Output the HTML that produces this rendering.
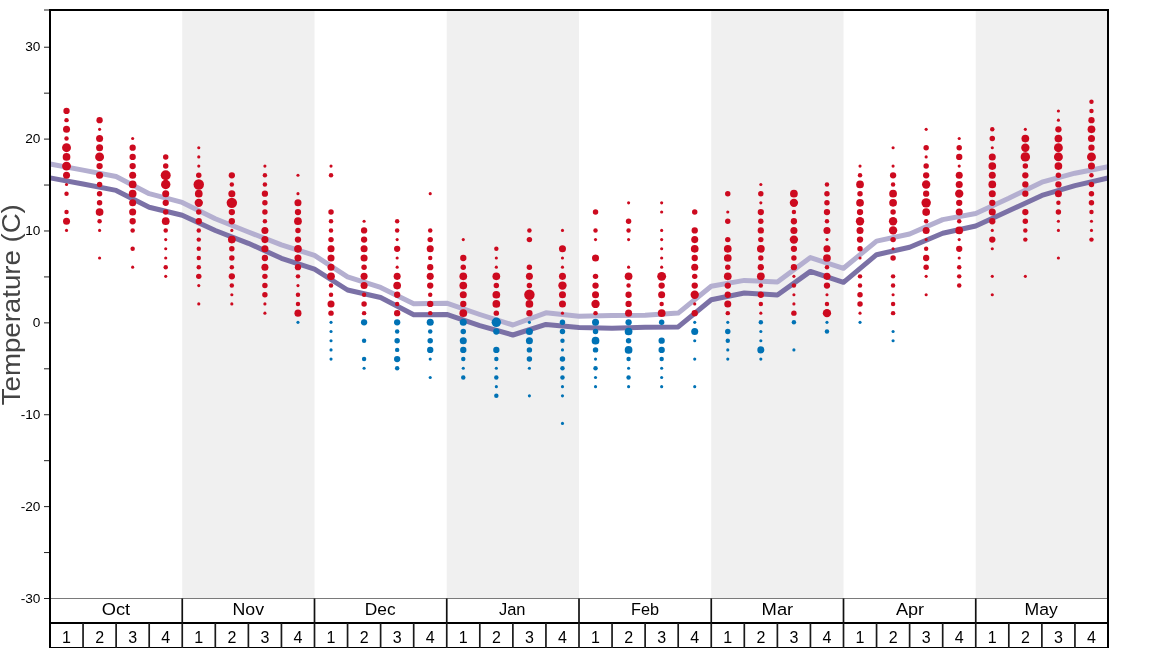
<!DOCTYPE html><html><head><meta charset="utf-8"><style>html,body{margin:0;padding:0;background:#fff;width:1168px;height:648px;overflow:hidden}svg{display:block}text{font-family:"Liberation Sans",sans-serif}</style></head><body><div style="will-change:transform;width:1168px;height:648px">
<svg width="1168" height="648" viewBox="0 0 1168 648">
<rect x="0" y="0" width="1168" height="648" fill="#fff"/>
<rect x="182.25" y="11" width="132.25" height="587" fill="#f0f0f0"/>
<rect x="446.75" y="11" width="132.25" height="587" fill="#f0f0f0"/>
<rect x="711.25" y="11" width="132.25" height="587" fill="#f0f0f0"/>
<rect x="975.75" y="11" width="132.25" height="587" fill="#f0f0f0"/>
<polyline points="50.00,164.00 83.06,170.16 116.12,176.50 149.19,193.70 182.25,202.40 215.31,218.80 248.38,232.00 281.44,244.80 314.50,255.40 347.56,276.80 380.62,287.40 413.69,303.80 446.75,303.20 479.81,314.50 512.88,325.00 545.94,312.80 579.00,316.20 612.06,315.50 645.12,315.30 678.19,313.10 711.25,286.30 744.31,280.40 777.38,282.00 810.44,257.60 843.50,268.30 876.56,241.10 909.62,234.00 942.69,219.60 975.75,213.50 1008.81,198.30 1041.88,182.20 1074.94,173.20 1108.00,166.80" fill="none" stroke="#b4afd0" stroke-width="5" stroke-linejoin="round" stroke-linecap="butt"/>
<polyline points="50.00,177.85 83.06,184.00 116.12,190.40 149.19,207.30 182.25,215.20 215.31,230.50 248.38,243.30 281.44,258.30 314.50,269.20 347.56,290.00 380.62,297.50 413.69,314.70 446.75,314.40 479.81,325.70 512.88,335.00 545.94,324.40 579.00,327.50 612.06,328.30 645.12,327.30 678.19,326.90 711.25,299.70 744.31,293.00 777.38,295.00 810.44,271.40 843.50,282.30 876.56,254.70 909.62,247.30 942.69,233.30 975.75,226.00 1008.81,210.80 1041.88,195.40 1074.94,185.60 1108.00,178.00" fill="none" stroke="#7b71a6" stroke-width="5" stroke-linejoin="round" stroke-linecap="butt"/>
<circle cx="66.53" cy="230.42" r="1.57" fill="#cd0a1f"/>
<circle cx="66.53" cy="221.23" r="3.52" fill="#cd0a1f"/>
<circle cx="66.53" cy="212.04" r="2.23" fill="#cd0a1f"/>
<circle cx="66.53" cy="193.66" r="2.23" fill="#cd0a1f"/>
<circle cx="66.53" cy="184.47" r="1.57" fill="#cd0a1f"/>
<circle cx="66.53" cy="175.28" r="3.52" fill="#cd0a1f"/>
<circle cx="66.53" cy="166.09" r="4.45" fill="#cd0a1f"/>
<circle cx="66.53" cy="156.90" r="3.86" fill="#cd0a1f"/>
<circle cx="66.53" cy="147.71" r="4.45" fill="#cd0a1f"/>
<circle cx="66.53" cy="138.52" r="2.23" fill="#cd0a1f"/>
<circle cx="66.53" cy="129.33" r="3.52" fill="#cd0a1f"/>
<circle cx="66.53" cy="120.14" r="2.23" fill="#cd0a1f"/>
<circle cx="66.53" cy="110.95" r="3.15" fill="#cd0a1f"/>
<circle cx="99.59" cy="257.99" r="1.57" fill="#cd0a1f"/>
<circle cx="99.59" cy="230.42" r="1.57" fill="#cd0a1f"/>
<circle cx="99.59" cy="221.23" r="2.23" fill="#cd0a1f"/>
<circle cx="99.59" cy="212.04" r="3.86" fill="#cd0a1f"/>
<circle cx="99.59" cy="202.85" r="2.73" fill="#cd0a1f"/>
<circle cx="99.59" cy="193.66" r="2.73" fill="#cd0a1f"/>
<circle cx="99.59" cy="184.47" r="2.73" fill="#cd0a1f"/>
<circle cx="99.59" cy="175.28" r="3.52" fill="#cd0a1f"/>
<circle cx="99.59" cy="166.09" r="3.15" fill="#cd0a1f"/>
<circle cx="99.59" cy="156.90" r="4.45" fill="#cd0a1f"/>
<circle cx="99.59" cy="147.71" r="3.52" fill="#cd0a1f"/>
<circle cx="99.59" cy="138.52" r="3.52" fill="#cd0a1f"/>
<circle cx="99.59" cy="129.33" r="1.57" fill="#cd0a1f"/>
<circle cx="99.59" cy="120.14" r="3.15" fill="#cd0a1f"/>
<circle cx="132.66" cy="267.18" r="1.57" fill="#cd0a1f"/>
<circle cx="132.66" cy="248.80" r="2.23" fill="#cd0a1f"/>
<circle cx="132.66" cy="230.42" r="2.23" fill="#cd0a1f"/>
<circle cx="132.66" cy="221.23" r="3.15" fill="#cd0a1f"/>
<circle cx="132.66" cy="212.04" r="3.52" fill="#cd0a1f"/>
<circle cx="132.66" cy="202.85" r="3.52" fill="#cd0a1f"/>
<circle cx="132.66" cy="193.66" r="3.86" fill="#cd0a1f"/>
<circle cx="132.66" cy="184.47" r="3.86" fill="#cd0a1f"/>
<circle cx="132.66" cy="175.28" r="3.52" fill="#cd0a1f"/>
<circle cx="132.66" cy="166.09" r="3.15" fill="#cd0a1f"/>
<circle cx="132.66" cy="156.90" r="3.15" fill="#cd0a1f"/>
<circle cx="132.66" cy="147.71" r="3.15" fill="#cd0a1f"/>
<circle cx="132.66" cy="138.52" r="1.57" fill="#cd0a1f"/>
<circle cx="165.72" cy="276.37" r="1.57" fill="#cd0a1f"/>
<circle cx="165.72" cy="267.18" r="2.23" fill="#cd0a1f"/>
<circle cx="165.72" cy="257.99" r="1.57" fill="#cd0a1f"/>
<circle cx="165.72" cy="248.80" r="1.57" fill="#cd0a1f"/>
<circle cx="165.72" cy="239.61" r="1.57" fill="#cd0a1f"/>
<circle cx="165.72" cy="230.42" r="2.23" fill="#cd0a1f"/>
<circle cx="165.72" cy="221.23" r="3.86" fill="#cd0a1f"/>
<circle cx="165.72" cy="212.04" r="2.73" fill="#cd0a1f"/>
<circle cx="165.72" cy="202.85" r="3.15" fill="#cd0a1f"/>
<circle cx="165.72" cy="193.66" r="3.52" fill="#cd0a1f"/>
<circle cx="165.72" cy="184.47" r="4.72" fill="#cd0a1f"/>
<circle cx="165.72" cy="175.28" r="4.98" fill="#cd0a1f"/>
<circle cx="165.72" cy="166.09" r="2.73" fill="#cd0a1f"/>
<circle cx="165.72" cy="156.90" r="2.73" fill="#cd0a1f"/>
<circle cx="198.78" cy="303.94" r="1.57" fill="#cd0a1f"/>
<circle cx="198.78" cy="285.56" r="1.57" fill="#cd0a1f"/>
<circle cx="198.78" cy="276.37" r="2.73" fill="#cd0a1f"/>
<circle cx="198.78" cy="267.18" r="2.23" fill="#cd0a1f"/>
<circle cx="198.78" cy="257.99" r="2.23" fill="#cd0a1f"/>
<circle cx="198.78" cy="248.80" r="2.23" fill="#cd0a1f"/>
<circle cx="198.78" cy="239.61" r="2.23" fill="#cd0a1f"/>
<circle cx="198.78" cy="230.42" r="2.23" fill="#cd0a1f"/>
<circle cx="198.78" cy="221.23" r="3.15" fill="#cd0a1f"/>
<circle cx="198.78" cy="212.04" r="2.73" fill="#cd0a1f"/>
<circle cx="198.78" cy="202.85" r="4.17" fill="#cd0a1f"/>
<circle cx="198.78" cy="193.66" r="3.86" fill="#cd0a1f"/>
<circle cx="198.78" cy="184.47" r="5.22" fill="#cd0a1f"/>
<circle cx="198.78" cy="175.28" r="2.73" fill="#cd0a1f"/>
<circle cx="198.78" cy="166.09" r="1.57" fill="#cd0a1f"/>
<circle cx="198.78" cy="156.90" r="1.57" fill="#cd0a1f"/>
<circle cx="198.78" cy="147.71" r="1.57" fill="#cd0a1f"/>
<circle cx="231.84" cy="303.94" r="1.57" fill="#cd0a1f"/>
<circle cx="231.84" cy="294.75" r="1.57" fill="#cd0a1f"/>
<circle cx="231.84" cy="285.56" r="2.23" fill="#cd0a1f"/>
<circle cx="231.84" cy="276.37" r="3.15" fill="#cd0a1f"/>
<circle cx="231.84" cy="267.18" r="2.23" fill="#cd0a1f"/>
<circle cx="231.84" cy="257.99" r="2.73" fill="#cd0a1f"/>
<circle cx="231.84" cy="248.80" r="2.73" fill="#cd0a1f"/>
<circle cx="231.84" cy="239.61" r="3.86" fill="#cd0a1f"/>
<circle cx="231.84" cy="230.42" r="1.57" fill="#cd0a1f"/>
<circle cx="231.84" cy="221.23" r="3.15" fill="#cd0a1f"/>
<circle cx="231.84" cy="212.04" r="3.15" fill="#cd0a1f"/>
<circle cx="231.84" cy="202.85" r="5.22" fill="#cd0a1f"/>
<circle cx="231.84" cy="193.66" r="3.52" fill="#cd0a1f"/>
<circle cx="231.84" cy="184.47" r="2.23" fill="#cd0a1f"/>
<circle cx="231.84" cy="175.28" r="3.15" fill="#cd0a1f"/>
<circle cx="264.91" cy="313.13" r="1.57" fill="#cd0a1f"/>
<circle cx="264.91" cy="303.94" r="1.57" fill="#cd0a1f"/>
<circle cx="264.91" cy="294.75" r="2.73" fill="#cd0a1f"/>
<circle cx="264.91" cy="285.56" r="2.73" fill="#cd0a1f"/>
<circle cx="264.91" cy="276.37" r="2.73" fill="#cd0a1f"/>
<circle cx="264.91" cy="267.18" r="3.52" fill="#cd0a1f"/>
<circle cx="264.91" cy="257.99" r="3.15" fill="#cd0a1f"/>
<circle cx="264.91" cy="248.80" r="3.52" fill="#cd0a1f"/>
<circle cx="264.91" cy="239.61" r="3.52" fill="#cd0a1f"/>
<circle cx="264.91" cy="230.42" r="3.52" fill="#cd0a1f"/>
<circle cx="264.91" cy="221.23" r="2.23" fill="#cd0a1f"/>
<circle cx="264.91" cy="212.04" r="2.73" fill="#cd0a1f"/>
<circle cx="264.91" cy="202.85" r="2.73" fill="#cd0a1f"/>
<circle cx="264.91" cy="193.66" r="3.15" fill="#cd0a1f"/>
<circle cx="264.91" cy="184.47" r="2.23" fill="#cd0a1f"/>
<circle cx="264.91" cy="175.28" r="2.23" fill="#cd0a1f"/>
<circle cx="264.91" cy="166.09" r="1.57" fill="#cd0a1f"/>
<circle cx="297.97" cy="322.32" r="1.57" fill="#0072b5"/>
<circle cx="297.97" cy="313.13" r="3.52" fill="#cd0a1f"/>
<circle cx="297.97" cy="303.94" r="2.23" fill="#cd0a1f"/>
<circle cx="297.97" cy="294.75" r="2.23" fill="#cd0a1f"/>
<circle cx="297.97" cy="285.56" r="1.57" fill="#cd0a1f"/>
<circle cx="297.97" cy="276.37" r="2.23" fill="#cd0a1f"/>
<circle cx="297.97" cy="267.18" r="3.15" fill="#cd0a1f"/>
<circle cx="297.97" cy="257.99" r="3.52" fill="#cd0a1f"/>
<circle cx="297.97" cy="248.80" r="3.86" fill="#cd0a1f"/>
<circle cx="297.97" cy="239.61" r="3.15" fill="#cd0a1f"/>
<circle cx="297.97" cy="230.42" r="2.73" fill="#cd0a1f"/>
<circle cx="297.97" cy="221.23" r="3.86" fill="#cd0a1f"/>
<circle cx="297.97" cy="212.04" r="3.15" fill="#cd0a1f"/>
<circle cx="297.97" cy="202.85" r="3.52" fill="#cd0a1f"/>
<circle cx="297.97" cy="193.66" r="1.57" fill="#cd0a1f"/>
<circle cx="297.97" cy="175.28" r="1.57" fill="#cd0a1f"/>
<circle cx="331.03" cy="359.08" r="1.57" fill="#0072b5"/>
<circle cx="331.03" cy="349.89" r="1.57" fill="#0072b5"/>
<circle cx="331.03" cy="340.70" r="1.57" fill="#0072b5"/>
<circle cx="331.03" cy="331.51" r="1.57" fill="#0072b5"/>
<circle cx="331.03" cy="322.32" r="1.57" fill="#0072b5"/>
<circle cx="331.03" cy="313.13" r="2.73" fill="#cd0a1f"/>
<circle cx="331.03" cy="303.94" r="3.52" fill="#cd0a1f"/>
<circle cx="331.03" cy="294.75" r="2.23" fill="#cd0a1f"/>
<circle cx="331.03" cy="285.56" r="2.23" fill="#cd0a1f"/>
<circle cx="331.03" cy="276.37" r="3.86" fill="#cd0a1f"/>
<circle cx="331.03" cy="267.18" r="3.52" fill="#cd0a1f"/>
<circle cx="331.03" cy="257.99" r="3.52" fill="#cd0a1f"/>
<circle cx="331.03" cy="248.80" r="3.52" fill="#cd0a1f"/>
<circle cx="331.03" cy="239.61" r="2.73" fill="#cd0a1f"/>
<circle cx="331.03" cy="230.42" r="2.23" fill="#cd0a1f"/>
<circle cx="331.03" cy="221.23" r="2.23" fill="#cd0a1f"/>
<circle cx="331.03" cy="212.04" r="2.73" fill="#cd0a1f"/>
<circle cx="331.03" cy="175.28" r="2.23" fill="#cd0a1f"/>
<circle cx="331.03" cy="166.09" r="1.57" fill="#cd0a1f"/>
<circle cx="364.09" cy="368.27" r="1.57" fill="#0072b5"/>
<circle cx="364.09" cy="359.08" r="2.23" fill="#0072b5"/>
<circle cx="364.09" cy="340.70" r="2.23" fill="#0072b5"/>
<circle cx="364.09" cy="322.32" r="3.15" fill="#0072b5"/>
<circle cx="364.09" cy="313.13" r="2.23" fill="#cd0a1f"/>
<circle cx="364.09" cy="303.94" r="2.73" fill="#cd0a1f"/>
<circle cx="364.09" cy="294.75" r="2.23" fill="#cd0a1f"/>
<circle cx="364.09" cy="285.56" r="3.52" fill="#cd0a1f"/>
<circle cx="364.09" cy="276.37" r="3.52" fill="#cd0a1f"/>
<circle cx="364.09" cy="267.18" r="2.73" fill="#cd0a1f"/>
<circle cx="364.09" cy="257.99" r="3.52" fill="#cd0a1f"/>
<circle cx="364.09" cy="248.80" r="3.52" fill="#cd0a1f"/>
<circle cx="364.09" cy="239.61" r="3.15" fill="#cd0a1f"/>
<circle cx="364.09" cy="230.42" r="3.15" fill="#cd0a1f"/>
<circle cx="364.09" cy="221.23" r="1.57" fill="#cd0a1f"/>
<circle cx="397.16" cy="368.27" r="2.23" fill="#0072b5"/>
<circle cx="397.16" cy="359.08" r="3.15" fill="#0072b5"/>
<circle cx="397.16" cy="349.89" r="2.23" fill="#0072b5"/>
<circle cx="397.16" cy="340.70" r="2.73" fill="#0072b5"/>
<circle cx="397.16" cy="331.51" r="2.23" fill="#0072b5"/>
<circle cx="397.16" cy="322.32" r="3.15" fill="#0072b5"/>
<circle cx="397.16" cy="313.13" r="3.15" fill="#cd0a1f"/>
<circle cx="397.16" cy="303.94" r="2.23" fill="#cd0a1f"/>
<circle cx="397.16" cy="294.75" r="3.15" fill="#cd0a1f"/>
<circle cx="397.16" cy="285.56" r="3.86" fill="#cd0a1f"/>
<circle cx="397.16" cy="276.37" r="3.52" fill="#cd0a1f"/>
<circle cx="397.16" cy="267.18" r="1.57" fill="#cd0a1f"/>
<circle cx="397.16" cy="257.99" r="1.57" fill="#cd0a1f"/>
<circle cx="397.16" cy="248.80" r="3.15" fill="#cd0a1f"/>
<circle cx="397.16" cy="239.61" r="1.57" fill="#cd0a1f"/>
<circle cx="397.16" cy="230.42" r="2.23" fill="#cd0a1f"/>
<circle cx="397.16" cy="221.23" r="2.23" fill="#cd0a1f"/>
<circle cx="430.22" cy="377.46" r="1.57" fill="#0072b5"/>
<circle cx="430.22" cy="359.08" r="1.57" fill="#0072b5"/>
<circle cx="430.22" cy="349.89" r="3.15" fill="#0072b5"/>
<circle cx="430.22" cy="340.70" r="2.73" fill="#0072b5"/>
<circle cx="430.22" cy="331.51" r="2.23" fill="#0072b5"/>
<circle cx="430.22" cy="322.32" r="3.52" fill="#0072b5"/>
<circle cx="430.22" cy="313.13" r="2.23" fill="#cd0a1f"/>
<circle cx="430.22" cy="303.94" r="3.15" fill="#cd0a1f"/>
<circle cx="430.22" cy="294.75" r="2.23" fill="#cd0a1f"/>
<circle cx="430.22" cy="285.56" r="3.15" fill="#cd0a1f"/>
<circle cx="430.22" cy="276.37" r="3.52" fill="#cd0a1f"/>
<circle cx="430.22" cy="267.18" r="3.15" fill="#cd0a1f"/>
<circle cx="430.22" cy="257.99" r="2.23" fill="#cd0a1f"/>
<circle cx="430.22" cy="248.80" r="3.52" fill="#cd0a1f"/>
<circle cx="430.22" cy="239.61" r="2.73" fill="#cd0a1f"/>
<circle cx="430.22" cy="230.42" r="2.23" fill="#cd0a1f"/>
<circle cx="430.22" cy="193.66" r="1.57" fill="#cd0a1f"/>
<circle cx="463.28" cy="377.46" r="2.23" fill="#0072b5"/>
<circle cx="463.28" cy="368.27" r="1.57" fill="#0072b5"/>
<circle cx="463.28" cy="359.08" r="2.23" fill="#0072b5"/>
<circle cx="463.28" cy="349.89" r="3.15" fill="#0072b5"/>
<circle cx="463.28" cy="340.70" r="3.52" fill="#0072b5"/>
<circle cx="463.28" cy="331.51" r="2.73" fill="#0072b5"/>
<circle cx="463.28" cy="322.32" r="3.52" fill="#0072b5"/>
<circle cx="463.28" cy="313.13" r="3.86" fill="#cd0a1f"/>
<circle cx="463.28" cy="303.94" r="3.15" fill="#cd0a1f"/>
<circle cx="463.28" cy="294.75" r="3.52" fill="#cd0a1f"/>
<circle cx="463.28" cy="285.56" r="3.86" fill="#cd0a1f"/>
<circle cx="463.28" cy="276.37" r="3.86" fill="#cd0a1f"/>
<circle cx="463.28" cy="267.18" r="2.73" fill="#cd0a1f"/>
<circle cx="463.28" cy="257.99" r="3.15" fill="#cd0a1f"/>
<circle cx="463.28" cy="239.61" r="1.57" fill="#cd0a1f"/>
<circle cx="496.34" cy="395.84" r="2.23" fill="#0072b5"/>
<circle cx="496.34" cy="386.65" r="1.57" fill="#0072b5"/>
<circle cx="496.34" cy="377.46" r="2.23" fill="#0072b5"/>
<circle cx="496.34" cy="368.27" r="1.57" fill="#0072b5"/>
<circle cx="496.34" cy="359.08" r="2.23" fill="#0072b5"/>
<circle cx="496.34" cy="349.89" r="3.15" fill="#0072b5"/>
<circle cx="496.34" cy="331.51" r="3.15" fill="#0072b5"/>
<circle cx="496.34" cy="322.32" r="4.72" fill="#0072b5"/>
<circle cx="496.34" cy="313.13" r="2.73" fill="#cd0a1f"/>
<circle cx="496.34" cy="303.94" r="3.86" fill="#cd0a1f"/>
<circle cx="496.34" cy="294.75" r="3.86" fill="#cd0a1f"/>
<circle cx="496.34" cy="285.56" r="2.73" fill="#cd0a1f"/>
<circle cx="496.34" cy="276.37" r="3.86" fill="#cd0a1f"/>
<circle cx="496.34" cy="267.18" r="1.57" fill="#cd0a1f"/>
<circle cx="496.34" cy="257.99" r="1.57" fill="#cd0a1f"/>
<circle cx="496.34" cy="248.80" r="2.23" fill="#cd0a1f"/>
<circle cx="529.41" cy="395.84" r="1.57" fill="#0072b5"/>
<circle cx="529.41" cy="368.27" r="1.57" fill="#0072b5"/>
<circle cx="529.41" cy="359.08" r="2.73" fill="#0072b5"/>
<circle cx="529.41" cy="349.89" r="2.73" fill="#0072b5"/>
<circle cx="529.41" cy="340.70" r="3.52" fill="#0072b5"/>
<circle cx="529.41" cy="331.51" r="3.52" fill="#0072b5"/>
<circle cx="529.41" cy="322.32" r="1.57" fill="#0072b5"/>
<circle cx="529.41" cy="313.13" r="3.15" fill="#cd0a1f"/>
<circle cx="529.41" cy="303.94" r="3.86" fill="#cd0a1f"/>
<circle cx="529.41" cy="294.75" r="5.22" fill="#cd0a1f"/>
<circle cx="529.41" cy="285.56" r="2.73" fill="#cd0a1f"/>
<circle cx="529.41" cy="276.37" r="3.52" fill="#cd0a1f"/>
<circle cx="529.41" cy="267.18" r="2.73" fill="#cd0a1f"/>
<circle cx="529.41" cy="239.61" r="2.73" fill="#cd0a1f"/>
<circle cx="529.41" cy="230.42" r="2.23" fill="#cd0a1f"/>
<circle cx="562.47" cy="423.41" r="1.57" fill="#0072b5"/>
<circle cx="562.47" cy="395.84" r="1.57" fill="#0072b5"/>
<circle cx="562.47" cy="386.65" r="1.57" fill="#0072b5"/>
<circle cx="562.47" cy="377.46" r="2.23" fill="#0072b5"/>
<circle cx="562.47" cy="368.27" r="2.23" fill="#0072b5"/>
<circle cx="562.47" cy="359.08" r="2.73" fill="#0072b5"/>
<circle cx="562.47" cy="349.89" r="1.57" fill="#0072b5"/>
<circle cx="562.47" cy="340.70" r="2.23" fill="#0072b5"/>
<circle cx="562.47" cy="331.51" r="2.73" fill="#0072b5"/>
<circle cx="562.47" cy="322.32" r="2.73" fill="#0072b5"/>
<circle cx="562.47" cy="313.13" r="1.57" fill="#cd0a1f"/>
<circle cx="562.47" cy="303.94" r="3.52" fill="#cd0a1f"/>
<circle cx="562.47" cy="294.75" r="3.52" fill="#cd0a1f"/>
<circle cx="562.47" cy="285.56" r="4.17" fill="#cd0a1f"/>
<circle cx="562.47" cy="276.37" r="3.52" fill="#cd0a1f"/>
<circle cx="562.47" cy="267.18" r="1.57" fill="#cd0a1f"/>
<circle cx="562.47" cy="257.99" r="1.57" fill="#cd0a1f"/>
<circle cx="562.47" cy="248.80" r="3.52" fill="#cd0a1f"/>
<circle cx="562.47" cy="230.42" r="1.57" fill="#cd0a1f"/>
<circle cx="595.53" cy="386.65" r="1.57" fill="#0072b5"/>
<circle cx="595.53" cy="377.46" r="1.57" fill="#0072b5"/>
<circle cx="595.53" cy="368.27" r="2.23" fill="#0072b5"/>
<circle cx="595.53" cy="359.08" r="1.57" fill="#0072b5"/>
<circle cx="595.53" cy="349.89" r="2.73" fill="#0072b5"/>
<circle cx="595.53" cy="340.70" r="3.86" fill="#0072b5"/>
<circle cx="595.53" cy="331.51" r="2.73" fill="#0072b5"/>
<circle cx="595.53" cy="322.32" r="3.52" fill="#0072b5"/>
<circle cx="595.53" cy="313.13" r="2.23" fill="#cd0a1f"/>
<circle cx="595.53" cy="303.94" r="4.17" fill="#cd0a1f"/>
<circle cx="595.53" cy="294.75" r="3.52" fill="#cd0a1f"/>
<circle cx="595.53" cy="285.56" r="3.15" fill="#cd0a1f"/>
<circle cx="595.53" cy="276.37" r="2.73" fill="#cd0a1f"/>
<circle cx="595.53" cy="257.99" r="3.52" fill="#cd0a1f"/>
<circle cx="595.53" cy="239.61" r="1.57" fill="#cd0a1f"/>
<circle cx="595.53" cy="230.42" r="2.23" fill="#cd0a1f"/>
<circle cx="595.53" cy="212.04" r="2.73" fill="#cd0a1f"/>
<circle cx="628.59" cy="386.65" r="1.57" fill="#0072b5"/>
<circle cx="628.59" cy="377.46" r="2.23" fill="#0072b5"/>
<circle cx="628.59" cy="368.27" r="1.57" fill="#0072b5"/>
<circle cx="628.59" cy="359.08" r="2.23" fill="#0072b5"/>
<circle cx="628.59" cy="349.89" r="3.86" fill="#0072b5"/>
<circle cx="628.59" cy="340.70" r="2.73" fill="#0072b5"/>
<circle cx="628.59" cy="331.51" r="3.86" fill="#0072b5"/>
<circle cx="628.59" cy="322.32" r="3.15" fill="#0072b5"/>
<circle cx="628.59" cy="313.13" r="3.52" fill="#cd0a1f"/>
<circle cx="628.59" cy="303.94" r="3.15" fill="#cd0a1f"/>
<circle cx="628.59" cy="294.75" r="3.15" fill="#cd0a1f"/>
<circle cx="628.59" cy="285.56" r="2.23" fill="#cd0a1f"/>
<circle cx="628.59" cy="276.37" r="3.86" fill="#cd0a1f"/>
<circle cx="628.59" cy="267.18" r="1.57" fill="#cd0a1f"/>
<circle cx="628.59" cy="239.61" r="1.57" fill="#cd0a1f"/>
<circle cx="628.59" cy="230.42" r="2.23" fill="#cd0a1f"/>
<circle cx="628.59" cy="221.23" r="2.73" fill="#cd0a1f"/>
<circle cx="628.59" cy="202.85" r="1.57" fill="#cd0a1f"/>
<circle cx="661.66" cy="386.65" r="1.57" fill="#0072b5"/>
<circle cx="661.66" cy="377.46" r="1.57" fill="#0072b5"/>
<circle cx="661.66" cy="368.27" r="1.57" fill="#0072b5"/>
<circle cx="661.66" cy="359.08" r="2.23" fill="#0072b5"/>
<circle cx="661.66" cy="349.89" r="3.15" fill="#0072b5"/>
<circle cx="661.66" cy="340.70" r="3.15" fill="#0072b5"/>
<circle cx="661.66" cy="322.32" r="2.73" fill="#0072b5"/>
<circle cx="661.66" cy="313.13" r="3.86" fill="#cd0a1f"/>
<circle cx="661.66" cy="303.94" r="2.23" fill="#cd0a1f"/>
<circle cx="661.66" cy="294.75" r="3.52" fill="#cd0a1f"/>
<circle cx="661.66" cy="285.56" r="3.15" fill="#cd0a1f"/>
<circle cx="661.66" cy="276.37" r="4.45" fill="#cd0a1f"/>
<circle cx="661.66" cy="267.18" r="1.57" fill="#cd0a1f"/>
<circle cx="661.66" cy="257.99" r="1.57" fill="#cd0a1f"/>
<circle cx="661.66" cy="248.80" r="1.57" fill="#cd0a1f"/>
<circle cx="661.66" cy="239.61" r="1.57" fill="#cd0a1f"/>
<circle cx="661.66" cy="230.42" r="1.57" fill="#cd0a1f"/>
<circle cx="661.66" cy="212.04" r="1.57" fill="#cd0a1f"/>
<circle cx="661.66" cy="202.85" r="1.57" fill="#cd0a1f"/>
<circle cx="694.72" cy="386.65" r="1.57" fill="#0072b5"/>
<circle cx="694.72" cy="359.08" r="1.57" fill="#0072b5"/>
<circle cx="694.72" cy="340.70" r="1.57" fill="#0072b5"/>
<circle cx="694.72" cy="331.51" r="3.52" fill="#0072b5"/>
<circle cx="694.72" cy="322.32" r="1.57" fill="#0072b5"/>
<circle cx="694.72" cy="313.13" r="3.15" fill="#cd0a1f"/>
<circle cx="694.72" cy="303.94" r="1.57" fill="#cd0a1f"/>
<circle cx="694.72" cy="294.75" r="4.17" fill="#cd0a1f"/>
<circle cx="694.72" cy="285.56" r="3.15" fill="#cd0a1f"/>
<circle cx="694.72" cy="276.37" r="2.73" fill="#cd0a1f"/>
<circle cx="694.72" cy="267.18" r="3.52" fill="#cd0a1f"/>
<circle cx="694.72" cy="257.99" r="3.15" fill="#cd0a1f"/>
<circle cx="694.72" cy="248.80" r="3.86" fill="#cd0a1f"/>
<circle cx="694.72" cy="239.61" r="3.52" fill="#cd0a1f"/>
<circle cx="694.72" cy="230.42" r="3.15" fill="#cd0a1f"/>
<circle cx="694.72" cy="212.04" r="2.73" fill="#cd0a1f"/>
<circle cx="727.78" cy="359.08" r="1.57" fill="#0072b5"/>
<circle cx="727.78" cy="349.89" r="1.57" fill="#0072b5"/>
<circle cx="727.78" cy="340.70" r="2.23" fill="#0072b5"/>
<circle cx="727.78" cy="331.51" r="2.73" fill="#0072b5"/>
<circle cx="727.78" cy="322.32" r="1.57" fill="#0072b5"/>
<circle cx="727.78" cy="313.13" r="2.23" fill="#cd0a1f"/>
<circle cx="727.78" cy="303.94" r="3.52" fill="#cd0a1f"/>
<circle cx="727.78" cy="294.75" r="3.15" fill="#cd0a1f"/>
<circle cx="727.78" cy="285.56" r="3.15" fill="#cd0a1f"/>
<circle cx="727.78" cy="276.37" r="3.86" fill="#cd0a1f"/>
<circle cx="727.78" cy="267.18" r="2.73" fill="#cd0a1f"/>
<circle cx="727.78" cy="257.99" r="3.86" fill="#cd0a1f"/>
<circle cx="727.78" cy="248.80" r="3.86" fill="#cd0a1f"/>
<circle cx="727.78" cy="239.61" r="2.73" fill="#cd0a1f"/>
<circle cx="727.78" cy="221.23" r="2.73" fill="#cd0a1f"/>
<circle cx="727.78" cy="212.04" r="1.57" fill="#cd0a1f"/>
<circle cx="727.78" cy="193.66" r="2.73" fill="#cd0a1f"/>
<circle cx="760.84" cy="359.08" r="1.57" fill="#0072b5"/>
<circle cx="760.84" cy="349.89" r="3.52" fill="#0072b5"/>
<circle cx="760.84" cy="340.70" r="1.57" fill="#0072b5"/>
<circle cx="760.84" cy="331.51" r="1.57" fill="#0072b5"/>
<circle cx="760.84" cy="322.32" r="2.23" fill="#0072b5"/>
<circle cx="760.84" cy="313.13" r="1.57" fill="#cd0a1f"/>
<circle cx="760.84" cy="303.94" r="2.23" fill="#cd0a1f"/>
<circle cx="760.84" cy="294.75" r="3.15" fill="#cd0a1f"/>
<circle cx="760.84" cy="285.56" r="2.23" fill="#cd0a1f"/>
<circle cx="760.84" cy="276.37" r="3.86" fill="#cd0a1f"/>
<circle cx="760.84" cy="267.18" r="3.15" fill="#cd0a1f"/>
<circle cx="760.84" cy="257.99" r="2.73" fill="#cd0a1f"/>
<circle cx="760.84" cy="248.80" r="3.86" fill="#cd0a1f"/>
<circle cx="760.84" cy="239.61" r="2.73" fill="#cd0a1f"/>
<circle cx="760.84" cy="230.42" r="3.15" fill="#cd0a1f"/>
<circle cx="760.84" cy="221.23" r="2.73" fill="#cd0a1f"/>
<circle cx="760.84" cy="212.04" r="3.15" fill="#cd0a1f"/>
<circle cx="760.84" cy="202.85" r="1.57" fill="#cd0a1f"/>
<circle cx="760.84" cy="193.66" r="2.73" fill="#cd0a1f"/>
<circle cx="760.84" cy="184.47" r="1.57" fill="#cd0a1f"/>
<circle cx="793.91" cy="349.89" r="1.57" fill="#0072b5"/>
<circle cx="793.91" cy="322.32" r="2.23" fill="#0072b5"/>
<circle cx="793.91" cy="313.13" r="2.73" fill="#cd0a1f"/>
<circle cx="793.91" cy="303.94" r="1.57" fill="#cd0a1f"/>
<circle cx="793.91" cy="294.75" r="1.57" fill="#cd0a1f"/>
<circle cx="793.91" cy="285.56" r="2.23" fill="#cd0a1f"/>
<circle cx="793.91" cy="276.37" r="1.57" fill="#cd0a1f"/>
<circle cx="793.91" cy="267.18" r="3.15" fill="#cd0a1f"/>
<circle cx="793.91" cy="257.99" r="2.73" fill="#cd0a1f"/>
<circle cx="793.91" cy="248.80" r="3.15" fill="#cd0a1f"/>
<circle cx="793.91" cy="239.61" r="4.17" fill="#cd0a1f"/>
<circle cx="793.91" cy="230.42" r="3.52" fill="#cd0a1f"/>
<circle cx="793.91" cy="221.23" r="3.15" fill="#cd0a1f"/>
<circle cx="793.91" cy="212.04" r="2.23" fill="#cd0a1f"/>
<circle cx="793.91" cy="202.85" r="4.17" fill="#cd0a1f"/>
<circle cx="793.91" cy="193.66" r="3.86" fill="#cd0a1f"/>
<circle cx="826.97" cy="331.51" r="2.23" fill="#0072b5"/>
<circle cx="826.97" cy="322.32" r="1.57" fill="#0072b5"/>
<circle cx="826.97" cy="313.13" r="4.17" fill="#cd0a1f"/>
<circle cx="826.97" cy="303.94" r="2.23" fill="#cd0a1f"/>
<circle cx="826.97" cy="294.75" r="1.57" fill="#cd0a1f"/>
<circle cx="826.97" cy="285.56" r="3.15" fill="#cd0a1f"/>
<circle cx="826.97" cy="276.37" r="3.52" fill="#cd0a1f"/>
<circle cx="826.97" cy="267.18" r="2.23" fill="#cd0a1f"/>
<circle cx="826.97" cy="257.99" r="3.86" fill="#cd0a1f"/>
<circle cx="826.97" cy="248.80" r="3.52" fill="#cd0a1f"/>
<circle cx="826.97" cy="239.61" r="1.57" fill="#cd0a1f"/>
<circle cx="826.97" cy="230.42" r="3.52" fill="#cd0a1f"/>
<circle cx="826.97" cy="221.23" r="2.23" fill="#cd0a1f"/>
<circle cx="826.97" cy="212.04" r="3.15" fill="#cd0a1f"/>
<circle cx="826.97" cy="202.85" r="2.73" fill="#cd0a1f"/>
<circle cx="826.97" cy="193.66" r="2.73" fill="#cd0a1f"/>
<circle cx="826.97" cy="184.47" r="2.23" fill="#cd0a1f"/>
<circle cx="860.03" cy="322.32" r="1.57" fill="#0072b5"/>
<circle cx="860.03" cy="313.13" r="1.57" fill="#cd0a1f"/>
<circle cx="860.03" cy="303.94" r="2.73" fill="#cd0a1f"/>
<circle cx="860.03" cy="294.75" r="2.73" fill="#cd0a1f"/>
<circle cx="860.03" cy="285.56" r="2.23" fill="#cd0a1f"/>
<circle cx="860.03" cy="276.37" r="2.23" fill="#cd0a1f"/>
<circle cx="860.03" cy="257.99" r="1.57" fill="#cd0a1f"/>
<circle cx="860.03" cy="248.80" r="2.73" fill="#cd0a1f"/>
<circle cx="860.03" cy="239.61" r="3.15" fill="#cd0a1f"/>
<circle cx="860.03" cy="230.42" r="3.52" fill="#cd0a1f"/>
<circle cx="860.03" cy="221.23" r="4.17" fill="#cd0a1f"/>
<circle cx="860.03" cy="212.04" r="3.15" fill="#cd0a1f"/>
<circle cx="860.03" cy="202.85" r="3.86" fill="#cd0a1f"/>
<circle cx="860.03" cy="193.66" r="2.73" fill="#cd0a1f"/>
<circle cx="860.03" cy="184.47" r="3.86" fill="#cd0a1f"/>
<circle cx="860.03" cy="175.28" r="2.23" fill="#cd0a1f"/>
<circle cx="860.03" cy="166.09" r="1.57" fill="#cd0a1f"/>
<circle cx="893.09" cy="340.70" r="1.57" fill="#0072b5"/>
<circle cx="893.09" cy="331.51" r="1.57" fill="#0072b5"/>
<circle cx="893.09" cy="313.13" r="2.23" fill="#cd0a1f"/>
<circle cx="893.09" cy="303.94" r="2.23" fill="#cd0a1f"/>
<circle cx="893.09" cy="294.75" r="1.57" fill="#cd0a1f"/>
<circle cx="893.09" cy="285.56" r="2.23" fill="#cd0a1f"/>
<circle cx="893.09" cy="276.37" r="2.23" fill="#cd0a1f"/>
<circle cx="893.09" cy="257.99" r="2.73" fill="#cd0a1f"/>
<circle cx="893.09" cy="248.80" r="1.57" fill="#cd0a1f"/>
<circle cx="893.09" cy="239.61" r="2.73" fill="#cd0a1f"/>
<circle cx="893.09" cy="230.42" r="4.17" fill="#cd0a1f"/>
<circle cx="893.09" cy="221.23" r="4.17" fill="#cd0a1f"/>
<circle cx="893.09" cy="212.04" r="2.73" fill="#cd0a1f"/>
<circle cx="893.09" cy="202.85" r="3.86" fill="#cd0a1f"/>
<circle cx="893.09" cy="193.66" r="3.86" fill="#cd0a1f"/>
<circle cx="893.09" cy="184.47" r="2.23" fill="#cd0a1f"/>
<circle cx="893.09" cy="175.28" r="3.15" fill="#cd0a1f"/>
<circle cx="893.09" cy="166.09" r="1.57" fill="#cd0a1f"/>
<circle cx="893.09" cy="147.71" r="1.57" fill="#cd0a1f"/>
<circle cx="926.16" cy="294.75" r="1.57" fill="#cd0a1f"/>
<circle cx="926.16" cy="276.37" r="1.57" fill="#cd0a1f"/>
<circle cx="926.16" cy="267.18" r="2.73" fill="#cd0a1f"/>
<circle cx="926.16" cy="257.99" r="3.15" fill="#cd0a1f"/>
<circle cx="926.16" cy="248.80" r="2.23" fill="#cd0a1f"/>
<circle cx="926.16" cy="239.61" r="1.57" fill="#cd0a1f"/>
<circle cx="926.16" cy="230.42" r="3.52" fill="#cd0a1f"/>
<circle cx="926.16" cy="221.23" r="2.23" fill="#cd0a1f"/>
<circle cx="926.16" cy="212.04" r="3.86" fill="#cd0a1f"/>
<circle cx="926.16" cy="202.85" r="4.72" fill="#cd0a1f"/>
<circle cx="926.16" cy="193.66" r="3.15" fill="#cd0a1f"/>
<circle cx="926.16" cy="184.47" r="4.17" fill="#cd0a1f"/>
<circle cx="926.16" cy="175.28" r="3.15" fill="#cd0a1f"/>
<circle cx="926.16" cy="166.09" r="2.73" fill="#cd0a1f"/>
<circle cx="926.16" cy="156.90" r="1.57" fill="#cd0a1f"/>
<circle cx="926.16" cy="147.71" r="2.73" fill="#cd0a1f"/>
<circle cx="926.16" cy="129.33" r="1.57" fill="#cd0a1f"/>
<circle cx="959.22" cy="285.56" r="2.23" fill="#cd0a1f"/>
<circle cx="959.22" cy="276.37" r="2.23" fill="#cd0a1f"/>
<circle cx="959.22" cy="267.18" r="2.23" fill="#cd0a1f"/>
<circle cx="959.22" cy="257.99" r="1.57" fill="#cd0a1f"/>
<circle cx="959.22" cy="248.80" r="3.15" fill="#cd0a1f"/>
<circle cx="959.22" cy="239.61" r="1.57" fill="#cd0a1f"/>
<circle cx="959.22" cy="230.42" r="3.86" fill="#cd0a1f"/>
<circle cx="959.22" cy="221.23" r="2.23" fill="#cd0a1f"/>
<circle cx="959.22" cy="212.04" r="3.52" fill="#cd0a1f"/>
<circle cx="959.22" cy="202.85" r="3.15" fill="#cd0a1f"/>
<circle cx="959.22" cy="193.66" r="4.17" fill="#cd0a1f"/>
<circle cx="959.22" cy="184.47" r="3.52" fill="#cd0a1f"/>
<circle cx="959.22" cy="175.28" r="3.52" fill="#cd0a1f"/>
<circle cx="959.22" cy="166.09" r="1.57" fill="#cd0a1f"/>
<circle cx="959.22" cy="156.90" r="3.15" fill="#cd0a1f"/>
<circle cx="959.22" cy="147.71" r="2.73" fill="#cd0a1f"/>
<circle cx="959.22" cy="138.52" r="1.57" fill="#cd0a1f"/>
<circle cx="992.28" cy="294.75" r="1.57" fill="#cd0a1f"/>
<circle cx="992.28" cy="276.37" r="1.57" fill="#cd0a1f"/>
<circle cx="992.28" cy="248.80" r="1.57" fill="#cd0a1f"/>
<circle cx="992.28" cy="239.61" r="3.15" fill="#cd0a1f"/>
<circle cx="992.28" cy="230.42" r="1.57" fill="#cd0a1f"/>
<circle cx="992.28" cy="221.23" r="3.15" fill="#cd0a1f"/>
<circle cx="992.28" cy="212.04" r="3.52" fill="#cd0a1f"/>
<circle cx="992.28" cy="202.85" r="3.15" fill="#cd0a1f"/>
<circle cx="992.28" cy="193.66" r="3.52" fill="#cd0a1f"/>
<circle cx="992.28" cy="184.47" r="3.86" fill="#cd0a1f"/>
<circle cx="992.28" cy="175.28" r="3.52" fill="#cd0a1f"/>
<circle cx="992.28" cy="166.09" r="3.86" fill="#cd0a1f"/>
<circle cx="992.28" cy="156.90" r="3.52" fill="#cd0a1f"/>
<circle cx="992.28" cy="147.71" r="1.57" fill="#cd0a1f"/>
<circle cx="992.28" cy="138.52" r="2.73" fill="#cd0a1f"/>
<circle cx="992.28" cy="129.33" r="2.23" fill="#cd0a1f"/>
<circle cx="1025.34" cy="276.37" r="1.57" fill="#cd0a1f"/>
<circle cx="1025.34" cy="239.61" r="2.23" fill="#cd0a1f"/>
<circle cx="1025.34" cy="230.42" r="2.23" fill="#cd0a1f"/>
<circle cx="1025.34" cy="221.23" r="2.73" fill="#cd0a1f"/>
<circle cx="1025.34" cy="212.04" r="3.15" fill="#cd0a1f"/>
<circle cx="1025.34" cy="193.66" r="3.15" fill="#cd0a1f"/>
<circle cx="1025.34" cy="184.47" r="3.15" fill="#cd0a1f"/>
<circle cx="1025.34" cy="175.28" r="3.15" fill="#cd0a1f"/>
<circle cx="1025.34" cy="166.09" r="2.73" fill="#cd0a1f"/>
<circle cx="1025.34" cy="156.90" r="4.72" fill="#cd0a1f"/>
<circle cx="1025.34" cy="147.71" r="4.17" fill="#cd0a1f"/>
<circle cx="1025.34" cy="138.52" r="3.86" fill="#cd0a1f"/>
<circle cx="1025.34" cy="129.33" r="1.57" fill="#cd0a1f"/>
<circle cx="1058.41" cy="257.99" r="1.57" fill="#cd0a1f"/>
<circle cx="1058.41" cy="230.42" r="1.57" fill="#cd0a1f"/>
<circle cx="1058.41" cy="221.23" r="1.57" fill="#cd0a1f"/>
<circle cx="1058.41" cy="212.04" r="2.73" fill="#cd0a1f"/>
<circle cx="1058.41" cy="202.85" r="2.23" fill="#cd0a1f"/>
<circle cx="1058.41" cy="193.66" r="3.52" fill="#cd0a1f"/>
<circle cx="1058.41" cy="184.47" r="3.15" fill="#cd0a1f"/>
<circle cx="1058.41" cy="175.28" r="2.73" fill="#cd0a1f"/>
<circle cx="1058.41" cy="166.09" r="3.86" fill="#cd0a1f"/>
<circle cx="1058.41" cy="156.90" r="4.45" fill="#cd0a1f"/>
<circle cx="1058.41" cy="147.71" r="4.45" fill="#cd0a1f"/>
<circle cx="1058.41" cy="138.52" r="3.86" fill="#cd0a1f"/>
<circle cx="1058.41" cy="129.33" r="3.15" fill="#cd0a1f"/>
<circle cx="1058.41" cy="120.14" r="1.57" fill="#cd0a1f"/>
<circle cx="1058.41" cy="110.95" r="1.57" fill="#cd0a1f"/>
<circle cx="1091.47" cy="239.61" r="2.23" fill="#cd0a1f"/>
<circle cx="1091.47" cy="230.42" r="1.57" fill="#cd0a1f"/>
<circle cx="1091.47" cy="221.23" r="1.57" fill="#cd0a1f"/>
<circle cx="1091.47" cy="212.04" r="2.23" fill="#cd0a1f"/>
<circle cx="1091.47" cy="202.85" r="2.73" fill="#cd0a1f"/>
<circle cx="1091.47" cy="193.66" r="2.73" fill="#cd0a1f"/>
<circle cx="1091.47" cy="184.47" r="2.73" fill="#cd0a1f"/>
<circle cx="1091.47" cy="175.28" r="2.23" fill="#cd0a1f"/>
<circle cx="1091.47" cy="166.09" r="3.52" fill="#cd0a1f"/>
<circle cx="1091.47" cy="156.90" r="4.45" fill="#cd0a1f"/>
<circle cx="1091.47" cy="147.71" r="3.15" fill="#cd0a1f"/>
<circle cx="1091.47" cy="138.52" r="3.52" fill="#cd0a1f"/>
<circle cx="1091.47" cy="129.33" r="3.86" fill="#cd0a1f"/>
<circle cx="1091.47" cy="120.14" r="3.15" fill="#cd0a1f"/>
<circle cx="1091.47" cy="110.95" r="2.23" fill="#cd0a1f"/>
<circle cx="1091.47" cy="101.76" r="2.23" fill="#cd0a1f"/>
<line x1="50.0" y1="598.5" x2="1108.0" y2="598.5" stroke="#7a7a7a" stroke-width="1"/>
<line x1="50.0" y1="623" x2="1108.0" y2="623" stroke="#000" stroke-width="2"/>
<line x1="50.0" y1="647.5" x2="1108.0" y2="647.5" stroke="#000" stroke-width="1"/>
<line x1="182.25" y1="598.5" x2="182.25" y2="623" stroke="#111" stroke-width="1.7"/>
<line x1="314.50" y1="598.5" x2="314.50" y2="623" stroke="#111" stroke-width="1.7"/>
<line x1="446.75" y1="598.5" x2="446.75" y2="623" stroke="#111" stroke-width="1.7"/>
<line x1="579.00" y1="598.5" x2="579.00" y2="623" stroke="#111" stroke-width="1.7"/>
<line x1="711.25" y1="598.5" x2="711.25" y2="623" stroke="#111" stroke-width="1.7"/>
<line x1="843.50" y1="598.5" x2="843.50" y2="623" stroke="#111" stroke-width="1.7"/>
<line x1="975.75" y1="598.5" x2="975.75" y2="623" stroke="#111" stroke-width="1.7"/>
<line x1="83.06" y1="623" x2="83.06" y2="648" stroke="#1a1a1a" stroke-width="1.7"/>
<line x1="116.12" y1="623" x2="116.12" y2="648" stroke="#1a1a1a" stroke-width="1.7"/>
<line x1="149.19" y1="623" x2="149.19" y2="648" stroke="#1a1a1a" stroke-width="1.7"/>
<line x1="182.25" y1="623" x2="182.25" y2="648" stroke="#1a1a1a" stroke-width="1.7"/>
<line x1="215.31" y1="623" x2="215.31" y2="648" stroke="#1a1a1a" stroke-width="1.7"/>
<line x1="248.38" y1="623" x2="248.38" y2="648" stroke="#1a1a1a" stroke-width="1.7"/>
<line x1="281.44" y1="623" x2="281.44" y2="648" stroke="#1a1a1a" stroke-width="1.7"/>
<line x1="314.50" y1="623" x2="314.50" y2="648" stroke="#1a1a1a" stroke-width="1.7"/>
<line x1="347.56" y1="623" x2="347.56" y2="648" stroke="#1a1a1a" stroke-width="1.7"/>
<line x1="380.62" y1="623" x2="380.62" y2="648" stroke="#1a1a1a" stroke-width="1.7"/>
<line x1="413.69" y1="623" x2="413.69" y2="648" stroke="#1a1a1a" stroke-width="1.7"/>
<line x1="446.75" y1="623" x2="446.75" y2="648" stroke="#1a1a1a" stroke-width="1.7"/>
<line x1="479.81" y1="623" x2="479.81" y2="648" stroke="#1a1a1a" stroke-width="1.7"/>
<line x1="512.88" y1="623" x2="512.88" y2="648" stroke="#1a1a1a" stroke-width="1.7"/>
<line x1="545.94" y1="623" x2="545.94" y2="648" stroke="#1a1a1a" stroke-width="1.7"/>
<line x1="579.00" y1="623" x2="579.00" y2="648" stroke="#1a1a1a" stroke-width="1.7"/>
<line x1="612.06" y1="623" x2="612.06" y2="648" stroke="#1a1a1a" stroke-width="1.7"/>
<line x1="645.12" y1="623" x2="645.12" y2="648" stroke="#1a1a1a" stroke-width="1.7"/>
<line x1="678.19" y1="623" x2="678.19" y2="648" stroke="#1a1a1a" stroke-width="1.7"/>
<line x1="711.25" y1="623" x2="711.25" y2="648" stroke="#1a1a1a" stroke-width="1.7"/>
<line x1="744.31" y1="623" x2="744.31" y2="648" stroke="#1a1a1a" stroke-width="1.7"/>
<line x1="777.38" y1="623" x2="777.38" y2="648" stroke="#1a1a1a" stroke-width="1.7"/>
<line x1="810.44" y1="623" x2="810.44" y2="648" stroke="#1a1a1a" stroke-width="1.7"/>
<line x1="843.50" y1="623" x2="843.50" y2="648" stroke="#1a1a1a" stroke-width="1.7"/>
<line x1="876.56" y1="623" x2="876.56" y2="648" stroke="#1a1a1a" stroke-width="1.7"/>
<line x1="909.62" y1="623" x2="909.62" y2="648" stroke="#1a1a1a" stroke-width="1.7"/>
<line x1="942.69" y1="623" x2="942.69" y2="648" stroke="#1a1a1a" stroke-width="1.7"/>
<line x1="975.75" y1="623" x2="975.75" y2="648" stroke="#1a1a1a" stroke-width="1.7"/>
<line x1="1008.81" y1="623" x2="1008.81" y2="648" stroke="#1a1a1a" stroke-width="1.7"/>
<line x1="1041.88" y1="623" x2="1041.88" y2="648" stroke="#1a1a1a" stroke-width="1.7"/>
<line x1="1074.94" y1="623" x2="1074.94" y2="648" stroke="#1a1a1a" stroke-width="1.7"/>
<text transform="translate(101.79,614.7) scale(1.050,1)" x="0" y="0" font-size="17.4" fill="#000">Oct</text>
<text x="66.53" y="642.8" font-size="16" text-anchor="middle" fill="#000">1</text>
<text x="99.59" y="642.8" font-size="16" text-anchor="middle" fill="#000">2</text>
<text x="132.66" y="642.8" font-size="16" text-anchor="middle" fill="#000">3</text>
<text x="165.72" y="642.8" font-size="16" text-anchor="middle" fill="#000">4</text>
<text transform="translate(232.56,614.7) scale(1.020,1)" x="0" y="0" font-size="17.4" fill="#000">Nov</text>
<text x="198.78" y="642.8" font-size="16" text-anchor="middle" fill="#000">1</text>
<text x="231.84" y="642.8" font-size="16" text-anchor="middle" fill="#000">2</text>
<text x="264.91" y="642.8" font-size="16" text-anchor="middle" fill="#000">3</text>
<text x="297.97" y="642.8" font-size="16" text-anchor="middle" fill="#000">4</text>
<text transform="translate(364.75,614.7) scale(0.997,1)" x="0" y="0" font-size="17.4" fill="#000">Dec</text>
<text x="331.03" y="642.8" font-size="16" text-anchor="middle" fill="#000">1</text>
<text x="364.09" y="642.8" font-size="16" text-anchor="middle" fill="#000">2</text>
<text x="397.16" y="642.8" font-size="16" text-anchor="middle" fill="#000">3</text>
<text x="430.22" y="642.8" font-size="16" text-anchor="middle" fill="#000">4</text>
<text transform="translate(498.99,614.7) scale(0.946,1)" x="0" y="0" font-size="17.4" fill="#000">Jan</text>
<text x="463.28" y="642.8" font-size="16" text-anchor="middle" fill="#000">1</text>
<text x="496.34" y="642.8" font-size="16" text-anchor="middle" fill="#000">2</text>
<text x="529.41" y="642.8" font-size="16" text-anchor="middle" fill="#000">3</text>
<text x="562.47" y="642.8" font-size="16" text-anchor="middle" fill="#000">4</text>
<text transform="translate(631.04,614.7) scale(0.935,1)" x="0" y="0" font-size="17.4" fill="#000">Feb</text>
<text x="595.53" y="642.8" font-size="16" text-anchor="middle" fill="#000">1</text>
<text x="628.59" y="642.8" font-size="16" text-anchor="middle" fill="#000">2</text>
<text x="661.66" y="642.8" font-size="16" text-anchor="middle" fill="#000">3</text>
<text x="694.72" y="642.8" font-size="16" text-anchor="middle" fill="#000">4</text>
<text transform="translate(761.60,614.7) scale(1.056,1)" x="0" y="0" font-size="17.4" fill="#000">Mar</text>
<text x="727.78" y="642.8" font-size="16" text-anchor="middle" fill="#000">1</text>
<text x="760.84" y="642.8" font-size="16" text-anchor="middle" fill="#000">2</text>
<text x="793.91" y="642.8" font-size="16" text-anchor="middle" fill="#000">3</text>
<text x="826.97" y="642.8" font-size="16" text-anchor="middle" fill="#000">4</text>
<text transform="translate(895.99,614.7) scale(1.040,1)" x="0" y="0" font-size="17.4" fill="#000">Apr</text>
<text x="860.03" y="642.8" font-size="16" text-anchor="middle" fill="#000">1</text>
<text x="893.09" y="642.8" font-size="16" text-anchor="middle" fill="#000">2</text>
<text x="926.16" y="642.8" font-size="16" text-anchor="middle" fill="#000">3</text>
<text x="959.22" y="642.8" font-size="16" text-anchor="middle" fill="#000">4</text>
<text transform="translate(1024.60,614.7) scale(1.012,1)" x="0" y="0" font-size="17.4" fill="#000">May</text>
<text x="992.28" y="642.8" font-size="16" text-anchor="middle" fill="#000">1</text>
<text x="1025.34" y="642.8" font-size="16" text-anchor="middle" fill="#000">2</text>
<text x="1058.41" y="642.8" font-size="16" text-anchor="middle" fill="#000">3</text>
<text x="1091.47" y="642.8" font-size="16" text-anchor="middle" fill="#000">4</text>
<path d="M50.0,648 V10.0 H1108.0 V648" fill="none" stroke="#000" stroke-width="2"/>
<line x1="44" y1="598.50" x2="49" y2="598.50" stroke="#222" stroke-width="1"/>
<line x1="44" y1="552.56" x2="49" y2="552.56" stroke="#222" stroke-width="1"/>
<line x1="44" y1="506.62" x2="49" y2="506.62" stroke="#222" stroke-width="1"/>
<line x1="44" y1="460.68" x2="49" y2="460.68" stroke="#222" stroke-width="1"/>
<line x1="44" y1="414.74" x2="49" y2="414.74" stroke="#222" stroke-width="1"/>
<line x1="44" y1="368.80" x2="49" y2="368.80" stroke="#222" stroke-width="1"/>
<line x1="44" y1="322.86" x2="49" y2="322.86" stroke="#222" stroke-width="1"/>
<line x1="44" y1="276.92" x2="49" y2="276.92" stroke="#222" stroke-width="1"/>
<line x1="44" y1="230.98" x2="49" y2="230.98" stroke="#222" stroke-width="1"/>
<line x1="44" y1="185.04" x2="49" y2="185.04" stroke="#222" stroke-width="1"/>
<line x1="44" y1="139.10" x2="49" y2="139.10" stroke="#222" stroke-width="1"/>
<line x1="44" y1="93.16" x2="49" y2="93.16" stroke="#222" stroke-width="1"/>
<line x1="44" y1="47.22" x2="49" y2="47.22" stroke="#222" stroke-width="1"/>
<line x1="44" y1="10" x2="49" y2="10" stroke="#222" stroke-width="1"/>
<text transform="translate(40.4,602.50) scale(1.12,1)" font-size="12.2" text-anchor="end" fill="#000">-30</text>
<text transform="translate(40.4,510.62) scale(1.12,1)" font-size="12.2" text-anchor="end" fill="#000">-20</text>
<text transform="translate(40.4,418.74) scale(1.12,1)" font-size="12.2" text-anchor="end" fill="#000">-10</text>
<text transform="translate(40.4,326.86) scale(1.12,1)" font-size="12.2" text-anchor="end" fill="#000">0</text>
<text transform="translate(40.4,234.98) scale(1.12,1)" font-size="12.2" text-anchor="end" fill="#000">10</text>
<text transform="translate(40.4,143.10) scale(1.12,1)" font-size="12.2" text-anchor="end" fill="#000">20</text>
<text transform="translate(40.4,51.22) scale(1.12,1)" font-size="12.2" text-anchor="end" fill="#000">30</text>
<text transform="translate(20,304.7) rotate(-90) scale(1.105,1)" font-size="25" text-anchor="middle" fill="#444">Temperature (C)</text>
</svg></div></body></html>
